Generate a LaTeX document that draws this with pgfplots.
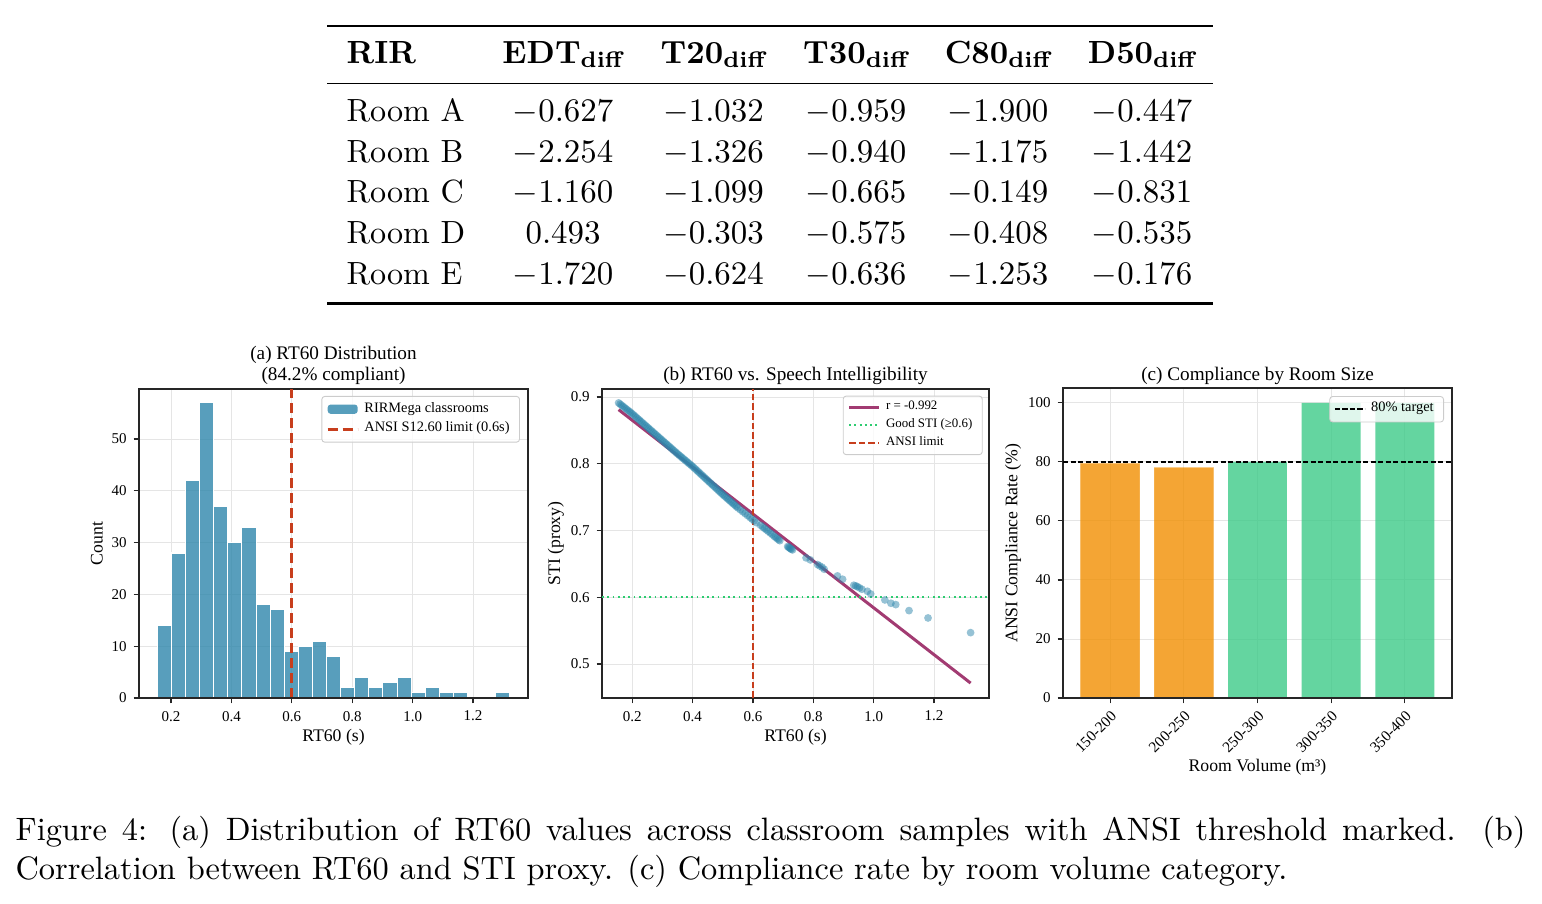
\documentclass[border=0pt]{standalone}
\usepackage{fontspec}
\usepackage{pgfplots}
\pgfplotsset{compat=1.18}
\newfontfamily\tfont{Liberation Serif}
\definecolor{cblue}{HTML}{2E86AB}
\definecolor{cpurple}{HTML}{A23B72}
\definecolor{corange}{HTML}{F18F01}
\definecolor{cred}{HTML}{C73E1D}
\definecolor{cgreenbar}{RGB}{61,202,136}
\definecolor{cgreenline}{HTML}{2ECC71}
\pgfplotsset{
  /pgf/number format/assume math mode=true,
  common/.style={
    scale only axis, anchor=south west,
    axis line style={draw=black!85, line width=0.55pt},
    tick align=outside, tick pos=left,
    major tick length=1.8pt,
    every tick/.style={black!85, line width=0.4pt},
    grid=major,
    grid style={draw=black!10, line width=0.3pt},
    tick label style={font=\tfont\fontsize{5}{6}\selectfont},
    yticklabel style={xshift=1.2pt},
    every axis x label/.style={at={(0.5,-0.126)}, anchor=center, font=\tfont\fontsize{5.9}{7}\selectfont},
    every axis y label/.style={at={(-0.108,0.5)}, rotate=90, anchor=center, font=\tfont\fontsize{5.9}{7}\selectfont},
    every axis title/.style={at={(0.5,1.044)}, anchor=center, align=center, font=\tfont\fontsize{6.4}{7}\selectfont},
    legend cell align=left,
    legend image code/.code={\draw[##1] (0pt,0pt) -- (10pt,0pt);},
    legend style={at={(1,1)}, anchor=north east, draw=black!20, line width=0.3pt,
      rounded corners=1pt, fill=white, fill opacity=0.8, text opacity=1,
      inner xsep=1.5pt, inner ysep=1pt, row sep=0pt,
      nodes={inner xsep=1.8pt, inner ysep=0.9pt}},
  }
}
\begin{document}
\begin{tikzpicture}
\useasboundingbox (0pt,0pt) rectangle (514pt,-301pt);
% ---------- table ----------
\draw[line width=0.85pt] (109.1pt,-8.67pt) -- (404.43pt,-8.67pt);
\draw[line width=0.5pt] (109.1pt,-27.77pt) -- (404.43pt,-27.77pt);
\draw[line width=0.85pt] (109.1pt,-101.1pt) -- (404.43pt,-101.1pt);
\begin{scope}[every node/.style={inner sep=0pt, font=\fontsize{10.7}{13}\selectfont}]
\node[anchor=base west] at (115.33pt,-21.0pt) {\textbf{RIR}};
\node[anchor=base] at (187.67pt,-21.0pt) {\textbf{EDT\textsubscript{diff}}};
\node[anchor=base] at (237.83pt,-21.0pt) {\textbf{T20\textsubscript{diff}}};
\node[anchor=base] at (285.33pt,-21.0pt) {\textbf{T30\textsubscript{diff}}};
\node[anchor=base] at (332.67pt,-21.0pt) {\textbf{C80\textsubscript{diff}}};
\node[anchor=base] at (380.67pt,-21.0pt) {\textbf{D50\textsubscript{diff}}};
\foreach \y/\r/\a/\b/\c/\d/\e in {
  -40.43/A/-0.627/-1.032/-0.959/-1.900/-0.447,
  -54.0/B/-2.254/-1.326/-0.940/-1.175/-1.442,
  -67.57/C/-1.160/-1.099/-0.665/-0.149/-0.831,
  -81.1/D/0.493/-0.303/-0.575/-0.408/-0.535,
  -94.67/E/-1.720/-0.624/-0.636/-1.253/-0.176}{
  \node[anchor=base west] at (115.33pt,\y pt) {Room \r};
  \node[anchor=base] at (187.67pt,\y pt) {$\a$};
  \node[anchor=base] at (237.83pt,\y pt) {$\b$};
  \node[anchor=base] at (285.33pt,\y pt) {$\c$};
  \node[anchor=base] at (332.67pt,\y pt) {$\d$};
  \node[anchor=base] at (380.67pt,\y pt) {$\e$};
}
\end{scope}
% ---------- (a) histogram ----------
\begin{axis}[common,
  at={(46.33pt,-232.67pt)}, width=129.67pt, height=103pt,
  xmin=0.094, xmax=1.382, ymin=0, ymax=59.65,
  xtick={0.2,0.4,0.6,0.8,1.0,1.2}, ytick={0,10,20,30,40,50},
  xticklabel style={yshift=1pt, /pgf/number format/fixed, /pgf/number format/fixed zerofill, /pgf/number format/precision=1},
  xlabel={RT60 (s)}, ylabel={Count},
  every axis title/.append style={at={(0.5,1.076)}},
  title={(a) RT60 Distribution\\(84.2\% compliant)},
  legend style={xshift=-2.67pt, yshift=-2.3pt, font=\tfont\fontsize{4.8}{5.6}\selectfont},
]
\addplot[ybar interval, fill=cblue, fill opacity=0.8, draw=white, line width=0.35pt,
  legend image code/.code={\fill[cblue, fill opacity=0.8, draw=none] (0pt,-1.5pt) rectangle (10pt,1.6pt);}]
coordinates {
(0.1546,14) (0.2013,28) (0.2480,42) (0.2947,57) (0.3414,37) (0.3881,30) (0.4348,33)
(0.4815,18) (0.5282,17) (0.5749,9) (0.6216,10) (0.6683,11) (0.7150,8) (0.7617,2)
(0.8084,4) (0.8551,2) (0.9018,3) (0.9485,4) (0.9952,1) (1.0419,2) (1.0886,1)
(1.1353,1) (1.1820,0) (1.2287,0) (1.2754,1) (1.3221,1)};
\addlegendentry{RIRMega classrooms}
\addplot[cred, line width=0.9pt, dash pattern=on 3.4pt off 1.6pt] coordinates {(0.6,0) (0.6,59.65)};
\addlegendentry{ANSI S12.60 limit (0.6s)}
\draw[black!85, line width=0.55pt] (rel axis cs:0,0) -- (rel axis cs:1,0);
\end{axis}
% ---------- (b) scatter ----------
\begin{axis}[common,
  at={(200.67pt,-232.67pt)}, width=129pt, height=103pt,
  xmin=0.1, xmax=1.382, ymin=0.449, ymax=0.912,
  xtick={0.2,0.4,0.6,0.8,1.0,1.2}, ytick={0.5,0.6,0.7,0.8,0.9},
  xticklabel style={yshift=1pt, /pgf/number format/fixed, /pgf/number format/fixed zerofill, /pgf/number format/precision=1},
  yticklabel style={/pgf/number format/fixed, /pgf/number format/fixed zerofill, /pgf/number format/precision=1},
  xlabel={RT60 (s)}, ylabel={STI (proxy)},
  every axis y label/.append style={at={(-0.119,0.5)}},
  title={(b) RT60 vs. Speech Intelligibility},
  legend style={xshift=-2.1pt, yshift=-2.2pt, font=\tfont\fontsize{4.3}{5}\selectfont,
    nodes={inner ysep=0.7pt}},
]
\addplot[only marks, mark=*, color=cblue, mark size=1.3pt, mark options={draw opacity=0, fill opacity=0.5}, forget plot]
coordinates {
(0.155,0.8912)(0.160,0.8894)(0.165,0.8876)(0.170,0.8858)(0.175,0.8840)(0.180,0.8822)(0.185,0.8804)(0.190,0.8786)(0.195,0.8768)(0.200,0.8750)
(0.205,0.8730)(0.210,0.8710)(0.215,0.8690)(0.220,0.8670)(0.225,0.8650)(0.230,0.8630)(0.235,0.8610)(0.240,0.8590)(0.245,0.8570)(0.250,0.8550)
(0.255,0.8530)(0.260,0.8510)(0.265,0.8490)(0.270,0.8470)(0.275,0.8450)(0.280,0.8430)(0.285,0.8410)(0.290,0.8390)(0.295,0.8370)(0.300,0.8350)
(0.305,0.8330)(0.310,0.8310)(0.315,0.8290)(0.320,0.8270)(0.325,0.8250)(0.330,0.8230)(0.335,0.8210)(0.340,0.8190)(0.345,0.8170)(0.350,0.8150)
(0.355,0.8131)(0.360,0.8112)(0.365,0.8093)(0.370,0.8074)(0.375,0.8055)(0.380,0.8036)(0.385,0.8017)(0.390,0.7998)(0.395,0.7979)(0.400,0.7960)
(0.405,0.7939)(0.410,0.7918)(0.415,0.7897)(0.420,0.7876)(0.425,0.7855)(0.430,0.7834)(0.435,0.7813)(0.440,0.7792)(0.445,0.7771)(0.450,0.7750)
(0.455,0.7729)(0.460,0.7708)(0.465,0.7687)(0.470,0.7666)(0.475,0.7645)(0.480,0.7624)(0.485,0.7603)(0.490,0.7582)(0.495,0.7561)(0.500,0.7540)
(0.505,0.7520)(0.510,0.7500)(0.515,0.7480)(0.520,0.7460)(0.525,0.7440)(0.530,0.7420)(0.535,0.7400)(0.540,0.7380)(0.545,0.7360)(0.550,0.7340)
(0.558,0.7311)(0.566,0.7282)(0.574,0.7254)(0.582,0.7225)(0.590,0.7196)(0.597,0.7171)(0.604,0.7146)(0.612,0.7117)
(0.625,0.7080)(0.632,0.7055)(0.638,0.7033)(0.644,0.7012)(0.650,0.6990)(0.657,0.6965)(0.663,0.6943)(0.670,0.6915)(0.675,0.6898)(0.680,0.6880)(0.685,0.6862)(0.689,0.6848)
(0.715,0.6760)(0.718,0.6750)(0.721,0.6740)(0.724,0.6730)(0.727,0.6720)(0.731,0.6710)
(0.776,0.6590)(0.790,0.6560)(0.814,0.6490)(0.821,0.6470)(0.829,0.6450)(0.836,0.6420)(0.880,0.6320)(0.897,0.6270)
(0.934,0.6180)(0.940,0.6170)(0.946,0.6160)(0.953,0.6140)(0.961,0.6120)(0.979,0.6090)(0.990,0.6050)
(1.037,0.5960)(1.057,0.5910)(1.073,0.5890)(1.117,0.5800)(1.180,0.5690)(1.321,0.5470)};
\addplot[cpurple, line width=1pt] coordinates {(0.155,0.8811) (1.321,0.4714)};
\addlegendentry{r = -0.992}
\addplot[cgreenline, line width=0.65pt, dash pattern=on 0.65pt off 1.1pt] coordinates {(0.1,0.6) (1.382,0.6)};
\addlegendentry{Good STI (≥0.6)}
\addplot[cred, line width=0.65pt, dash pattern=on 2.2pt off 1pt] coordinates {(0.6,0.449) (0.6,0.912)};
\addlegendentry{ANSI limit}
\end{axis}
% ---------- (c) bars ----------
\begin{axis}[common,
  at={(354.33pt,-232.67pt)}, width=129.67pt, height=103.33pt,
  xmin=-0.64, xmax=4.64, ymin=0, ymax=105,
  xtick={0,1,2,3,4}, xticklabels={150-200,200-250,250-300,300-350,350-400},
  xticklabel style={yshift=-1.3pt, rotate=45, anchor=north east, inner sep=0.5pt, font=\tfont\fontsize{5.1}{6}\selectfont},
  ytick={0,20,40,60,80,100},
  xlabel={Room Volume (m³)}, ylabel={ANSI Compliance Rate (\%)},
  every axis x label/.append style={at={(0.5,-0.2226)}},
  every axis y label/.append style={at={(-0.1285,0.5)}},
  every axis title/.append style={at={(0.5,1.040)}},
  title={(c) Compliance by Room Size},
  legend style={xshift=-2.67pt, yshift=-2.67pt, font=\tfont\fontsize{4.8}{5.6}\selectfont},
]
\addplot[ybar, bar width=0.8, bar shift=0pt, fill=corange, fill opacity=0.8, draw=corange, draw opacity=0.4, line width=0.3pt, forget plot]
coordinates {(0,79.4) (1,78.0)};
\addplot[ybar, bar width=0.8, bar shift=0pt, fill=cgreenbar, fill opacity=0.8, draw=none, forget plot]
coordinates {(2,80.0) (3,100) (4,100)};
\addplot[black, line width=0.5pt, dash pattern=on 1.7pt off 0.8pt] coordinates {(-0.64,80) (4.64,80)};
\addlegendentry{80\% target}
\draw[black!85, line width=0.55pt] (rel axis cs:0,0) -- (rel axis cs:1,0);
\end{axis}
% ---------- caption ----------
\node[anchor=base west, inner sep=0pt] at (5pt,-280.2pt) {\parbox[t]{503.3pt}{\fontsize{10.8}{13.1}\selectfont\hyphenpenalty=10000\exhyphenpenalty=10000
Figure 4: (a) Distribution of RT60 values across classroom samples with ANSI threshold marked. (b) Correlation between RT60 and STI proxy. (c) Compliance rate by room volume category.}};
\end{tikzpicture}
\end{document}
